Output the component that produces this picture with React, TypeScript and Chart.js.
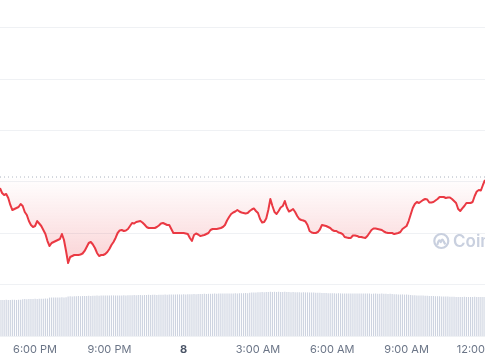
import { useEffect, useRef } from 'react';
import { Chart, registerables } from 'chart.js';

Chart.register(...registerables);

// 5-minute samples starting 4:35 PM
const START_MINUTES = 16 * 60 + 35;
const STEP_MINUTES = 5;

const PRICES = [
  28.79, 27.82, 27.43, 27.63, 26.85, 25.49, 24.51, 24.71, 24.90, 25.10,
  25.68, 25.29, 24.12, 23.54, 22.37, 21.60, 21.21, 21.40, 22.37, 21.89,
  21.40, 20.62, 19.84, 18.48, 17.51, 18.09, 18.29, 18.48, 18.68, 18.87,
  19.84, 18.68, 16.54, 14.20, 15.37, 15.56, 15.76, 15.76, 15.76, 15.86,
  16.05, 16.54, 17.32, 18.09, 18.29, 17.80, 17.12, 16.15, 15.56, 15.76,
  15.76, 15.95, 16.34, 16.93, 17.70, 18.29, 19.07, 20.04, 20.53, 20.62,
  20.43, 20.53, 20.82, 21.40, 21.98, 21.89, 22.18, 22.28, 22.37, 22.08,
  21.69, 21.21, 21.01, 21.01, 21.01, 21.01, 21.21, 21.50, 21.89, 21.98,
  21.79, 21.60, 21.60, 20.82, 20.04, 20.04, 20.04, 20.04, 20.04, 20.04,
  19.94, 19.84, 19.07, 18.48, 19.65, 19.94, 19.75, 19.46, 19.55, 19.65,
  19.84, 20.04, 20.62, 20.82, 20.82, 20.82, 20.92, 21.01, 21.21, 21.60,
  22.47, 23.15, 23.74, 24.03, 24.22, 24.51, 24.22, 24.03, 23.93, 23.83,
  23.93, 24.32, 24.61, 24.81, 24.32, 23.93, 22.76, 22.08, 22.18, 22.86,
  24.51, 26.65, 25.29, 24.12, 23.74, 24.32, 25.00, 25.29, 26.26, 25.00,
  24.22, 24.42, 24.71, 24.12, 23.35, 22.76, 22.57, 22.47, 22.28, 21.60,
  20.43, 20.14, 20.04, 20.04, 20.23, 20.72, 21.60, 21.50, 21.40, 21.21,
  21.01, 20.62, 20.43, 20.43, 20.14, 20.04, 19.84, 19.26, 19.16, 19.07,
  19.07, 19.55, 19.55, 19.46, 19.26, 19.26, 19.16, 19.07, 19.46, 20.04,
  20.62, 20.92, 20.92, 20.82, 20.72, 20.62, 20.33, 20.14, 20.04, 20.04,
  20.04, 19.84, 19.94, 20.04, 20.23, 20.82, 21.11, 21.40, 22.37, 23.64,
  24.90, 25.68, 26.07, 25.88, 26.17, 26.46, 26.65, 26.56, 25.97, 25.97,
  26.07, 26.36, 26.65, 27.04, 27.04, 27.04, 26.85, 26.95, 26.95, 26.65,
  26.26, 25.88, 24.71, 24.32, 24.81, 25.29, 25.88, 25.88, 25.88, 26.07,
  27.24, 28.11, 28.40, 28.31, 29.38, 30.35,
];

const VOLUMES = [
  18.0, 18.0, 18.0, 18.1, 18.0, 18.0, 18.1, 18.1, 18.0, 18.1, 18.1,
  18.4, 18.5, 18.4, 18.5, 18.5, 18.5, 18.6, 18.5, 18.6, 18.6, 18.6, 18.7, 18.7,
  19.2, 19.2, 19.3, 19.2, 19.3, 19.3, 19.4, 19.3, 19.4,
  19.8, 19.9, 19.8, 19.9, 19.9, 20.0, 19.9, 20.0, 20.0, 20.0, 20.1, 20.0, 20.1,
  20.1, 20.2, 20.1, 20.2, 20.2, 20.2, 20.3, 20.2, 20.3, 20.3, 20.2, 20.3, 20.3, 20.3, 20.4,
  20.3, 20.4, 20.4, 20.4, 20.5, 20.4, 20.5, 20.5, 20.4, 20.5, 20.5, 20.6, 20.5, 20.6, 20.6, 20.5, 20.6, 20.6, 20.6, 20.7,
  20.6, 20.7, 20.7, 20.8, 20.7, 20.8, 20.8, 20.8, 20.9, 20.8, 20.9, 20.9, 20.9, 21.0, 20.9, 21.0, 21.0, 21.0, 21.1, 21.0,
  21.1, 21.1, 21.1, 21.2, 21.1, 21.2, 21.2, 21.2, 21.3, 21.2, 21.3, 21.3, 21.3, 21.4, 21.3, 21.4, 21.4, 21.4, 21.5, 21.4,
  21.6, 21.7, 21.8, 21.8, 21.9, 21.9, 22.0, 21.9, 22.0, 22.0, 22.1, 22.0,
  22.1, 22.0, 22.1, 22.0, 22.0, 22.1, 22.0, 22.0, 21.9, 22.0, 21.9, 21.9, 21.9, 21.8, 21.9, 21.8, 21.8, 21.8,
  21.7, 21.7, 21.6, 21.6, 21.6, 21.5, 21.5, 21.5, 21.4, 21.4, 21.4, 21.4, 21.3, 21.4, 21.3,
  21.3, 21.3, 21.3, 21.2, 21.3, 21.2, 21.3, 21.2, 21.2, 21.2, 21.3, 21.2, 21.2, 21.2, 21.1, 21.2, 21.2, 21.1, 21.1, 21.2, 21.1, 21.1, 21.0, 21.1, 21.0,
  20.9, 20.9, 20.8, 20.8, 20.8, 20.7, 20.7, 20.6,
  20.5, 20.4, 20.4, 20.3, 20.3, 20.2, 20.2,
  20.1, 20.1, 20.0, 20.0, 20.0, 19.9, 19.9, 19.9, 19.8, 19.8,
  19.7, 19.7, 19.6, 19.6, 19.6, 19.5, 19.5, 19.5, 19.5, 19.6, 19.5, 19.5, 19.5, 19.5, 19.6, 19.5, 19.5, 19.5, 19.5, 19.5,
];

const OPEN_PRICE = 30.93;

const TICK_TIMES = ['6:00 PM', '9:00 PM', '12:00 AM', '3:00 AM', '6:00 AM', '9:00 AM', '12:00 PM'];
const TICK_LABELS = ['6:00 PM', '9:00 PM', '8', '3:00 AM', '6:00 AM', '9:00 AM', '12:00 PM'];

function formatTime(m: number): string {
  const t = ((m % 1440) + 1440) % 1440;
  const h = Math.floor(t / 60);
  const mm = t % 60;
  const h12 = h % 12 === 0 ? 12 : h % 12;
  return `${h12}:${String(mm).padStart(2, '0')} ${h < 12 ? 'AM' : 'PM'}`;
}

const TIME_LABELS = PRICES.map((_, i) => formatTime(START_MINUTES + i * STEP_MINUTES));

const watermark = {
  id: 'watermark',
  beforeDatasetsDraw(chart: any) {
    const ctx = chart.ctx;
    ctx.save();
    const cx = 441.3;
    const cy = 241;
    ctx.strokeStyle = '#c9d0df';
    ctx.lineWidth = 2.2;
    ctx.lineCap = 'round';
    ctx.lineJoin = 'round';
    ctx.beginPath();
    ctx.arc(cx, cy, 7, 0, Math.PI * 2);
    ctx.stroke();
    ctx.beginPath();
    ctx.moveTo(cx - 3.8, cy + 3.2);
    ctx.quadraticCurveTo(cx - 2.2, cy - 3.5, cx - 0.6, cy + 1.2);
    ctx.quadraticCurveTo(cx + 1.0, cy - 3.5, cx + 2.4, cy + 0.5);
    ctx.lineTo(cx + 3.6, cy + 2.6);
    ctx.stroke();
    ctx.fillStyle = '#c9d0df';
    ctx.font = '600 17px Inter, "Noto Sans", sans-serif';
    ctx.textBaseline = 'alphabetic';
    ctx.textAlign = 'left';
    ctx.fillText('CoinGecko', 453, 247);
    ctx.restore();
  },
};

export default function App() {
  const ref = useRef<HTMLCanvasElement | null>(null);

  useEffect(() => {
    if (!ref.current) return;
    const minPrice = Math.min(...PRICES);
    const chart = new Chart(ref.current, {
      type: 'line',
      data: {
        labels: TIME_LABELS,
        datasets: [
          {
            type: 'line',
            data: PRICES,
            borderColor: '#ea3943',
            borderWidth: 2,
            pointRadius: 0,
            tension: 0,
            borderJoinStyle: 'round',
            fill: { value: OPEN_PRICE },
            backgroundColor: (c: any) => {
              const ch = c.chart;
              if (!ch.chartArea) return 'rgba(234,57,67,0.1)';
              const y = ch.scales.y;
              const top = y.getPixelForValue(OPEN_PRICE);
              const bottom = y.getPixelForValue(minPrice);
              const g = ch.ctx.createLinearGradient(0, top, 0, bottom);
              g.addColorStop(0, 'rgba(234,57,67,0.0)');
              g.addColorStop(1, 'rgba(234,57,67,0.22)');
              return g;
            },
            yAxisID: 'y',
            order: 0,
          },
          {
            type: 'line',
            data: TIME_LABELS.map(() => OPEN_PRICE),
            borderColor: '#a9b0bc',
            borderWidth: 1,
            borderDash: [1, 3],
            pointRadius: 0,
            fill: false,
            yAxisID: 'y',
            order: 1,
          },
          {
            type: 'bar',
            data: VOLUMES,
            backgroundColor: '#cdd3e0',
            barPercentage: 0.55,
            categoryPercentage: 1,
            yAxisID: 'y1',
            order: 2,
          },
        ],
      } as any,
      options: {
        animation: false,
        responsive: false,
        devicePixelRatio: 1,
        layout: { padding: { left: 0, right: 75, top: 0, bottom: 0 } },
        plugins: { legend: { display: false }, tooltip: { enabled: false } },
        scales: {
          x: {
            type: 'category',
            offset: false,
            grid: { display: false, drawTicks: true, tickLength: 7 },
            border: { display: false },
            afterFit: (s: any) => {
              s.height = 24;
            },
            ticks: {
              autoSkip: false,
              maxRotation: 0,
              minRotation: 0,
              padding: 0,
              callback: (_v: any, index: number) => {
                const k = TICK_TIMES.indexOf(TIME_LABELS[index]);
                return k >= 0 ? TICK_LABELS[k] : '';
              },
              font: (c: any) =>
                c.tick && c.tick.label === '8'
                  ? { family: 'Inter, "Noto Sans", sans-serif', size: 11, weight: 'bold' }
                  : { family: 'Inter, "Noto Sans", sans-serif', size: 11, weight: 'normal' },
              color: (c: any) => (c.tick && c.tick.label === '8' ? '#4a5466' : '#6b7587'),
            },
          },
          y: {
            position: 'left',
            min: 0,
            max: 65.37,
            ticks: { display: false, stepSize: 10, includeBounds: false, padding: 0 },
            grid: { color: '#eff1f4', drawTicks: false },
            border: { display: false },
            afterFit: (s: any) => {
              s.width = 0;
            },
          },
          y1: { display: false, min: 0, max: 168 },
        },
      } as any,
      plugins: [watermark],
    });
    return () => chart.destroy();
  }, []);

  return (
    <div style={{ position: 'fixed', left: 0, top: 0, width: 485, height: 360, overflow: 'hidden', background: '#fff' }}>
      <canvas ref={ref} width={560} height={360} style={{ width: 560, height: 360, display: 'block' }} />
    </div>
  );
}
